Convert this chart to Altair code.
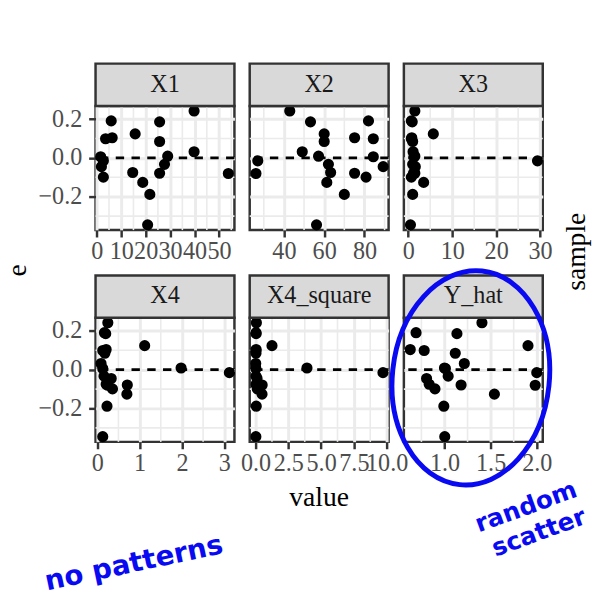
import altair as alt
import pandas as pd

# ---------------- data ----------------
VARS = ["X1", "X2", "X3", "X4", "X4_square", "Y_hat"]

E = [0.242, 0.191, 0.186, 0.124, 0.104, 0.099, 0.085, 0.032, 0.009, 0.006,
     -0.015, -0.033, -0.045, -0.075, -0.079, -0.080, -0.099, -0.126, -0.188, -0.345]

X1 = [39.8, 5.9, 25.7, 15.7, 6.3, 3.6, 25.7, 39.8, 29.0, 1.6,
      2.7, 27.7, 1.9, 14.7, 25.7, 53.8, 2.7, 18.8, 21.7, 20.8]
X2 = [42.9, 82.0, 53.2, 60.0, 75.1, 84.4, 60.0, 49.1, 57.2, 84.4,
      27.0, 62.1, 89.3, 63.2, 75.1, 26.1, 80.8, 61.3, 70.0, 56.2]
X3 = [1.5, 0.7, 0.9, 5.7, 0.8, 0.7, 1.0, 1.1, 1.5, 1.3,
      29.4, 1.0, 1.6, 1.3, 1.5, 1.2, 0.7, 3.5, 1.0, 0.5]
X4 = [0.25, 0.17, 0.20, 1.12, 0.21, 0.13, 0.18, 0.09, 1.98, 0.13,
      3.12, 0.16, 0.33, 0.21, 0.71, 0.25, 0.36, 0.70, 0.23, 0.13]
X4_SQUARE = [0.06, 0.03, 0.04, 1.25, 0.04, 0.02, 0.03, 0.01, 3.92, 0.02,
             9.72, 0.03, 0.11, 0.04, 0.50, 0.06, 0.13, 0.49, 0.05, 0.02]
Y_HAT = [1.406, 0.692, 1.135, 1.905, 0.629, 0.780, 1.117, 1.215, 1.000, 1.010,
         2.000, 1.040, 0.806, 0.834, 1.180, 1.983, 0.897, 1.541, 0.993, 1.003]

VALUES = {"X1": X1, "X2": X2, "X3": X3, "X4": X4, "X4_square": X4_SQUARE, "Y_hat": Y_HAT}

MAJOR = {"X1": [0, 10, 20, 30, 40, 50], "X2": [40, 60, 80], "X3": [0, 10, 20, 30],
         "X4": [0, 1, 2, 3], "X4_square": [0, 2.5, 5, 7.5, 10], "Y_hat": [1.0, 1.5, 2.0]}
MINOR = {"X1": [5, 15, 25, 35, 45, 55], "X2": [30, 50, 70, 90], "X3": [5, 15, 25],
         "X4": [0.5, 1.5, 2.5], "X4_square": [1.25, 3.75, 6.25, 8.75], "Y_hat": [0.75, 1.25, 1.75]}
DOMAIN = {"X1": [-0.5, 56.3], "X2": [23.0, 92.0], "X3": [-1.0, 30.6],
          "X4": [-0.04, 3.24], "X4_square": [-0.45, 10.15], "Y_hat": [0.56, 2.065]}
FMT = {"X1": "d", "X2": "d", "X3": "d", "X4": "d", "X4_square": ".1f", "Y_hat": ".1f"}

Y_MAJOR = [-0.2, 0.0, 0.2]
Y_MINOR = [-0.3, -0.1, 0.1]
Y_DOMAIN = [-0.372, 0.268]
HLINE = [0.0]

Y_TITLE = "e"
X_TITLE = "value"
LEGEND_TITLE = "sample"
NOTE_LEFT = "no patterns"
NOTE_RIGHT = ["random", "scatter"]

# ---------------- styling ----------------
FONT = "Liberation Serif"
HAND = "DejaVu Sans"
BLUE = "#0A0AF2"
W, H = 141, 126
STRIP_H = 43
GRID = "#EBEBEB"
DARK = "#333333"
TICK_FS = 24.5

ELLIPSE = "M -0.731 0 A 0.731 1 0 1 1 0.731 0 A 0.731 1 0 1 1 -0.731 0 Z"


def panel(i, var):
    left = (i % 3 == 0)
    xs = alt.Scale(domain=DOMAIN[var], nice=False, zero=False)
    ys = alt.Scale(domain=Y_DOMAIN, nice=False, zero=False)
    xaxis = alt.Axis(values=MAJOR[var], format=FMT[var], title=None, grid=True,
                     gridColor=GRID, gridWidth=3, domain=False, ticks=True,
                     tickColor=DARK, tickWidth=2.5, tickSize=7,
                     labelFont=FONT, labelFontSize=TICK_FS, labelColor="#4D4D4D",
                     labelPadding=3, labelOverlap=False, labelFlush=False)
    yaxis = alt.Axis(values=Y_MAJOR, format=".1f", title=None, grid=True,
                     gridColor=GRID, gridWidth=3, domain=False, ticks=left,
                     labels=left, tickColor=DARK, tickWidth=2.5, tickSize=7,
                     labelFont=FONT, labelFontSize=TICK_FS, labelColor="#4D4D4D",
                     labelPadding=7, labelOverlap=False, labelFlush=False)

    df = pd.DataFrame({"value": VALUES[var], "e": E})

    minor_x = alt.Chart(pd.DataFrame({"m": MINOR[var]})).mark_rule(
        color=GRID, strokeWidth=1.6).encode(x=alt.X("m:Q", scale=xs, axis=xaxis))
    minor_y = alt.Chart(pd.DataFrame({"m": Y_MINOR})).mark_rule(
        color=GRID, strokeWidth=1.6).encode(y=alt.Y("m:Q", scale=ys, axis=yaxis))
    pts = alt.Chart(df).mark_circle(size=128, color="black", opacity=1).encode(
        x=alt.X("value:Q", scale=xs, axis=xaxis),
        y=alt.Y("e:Q", scale=ys, axis=yaxis))
    hline = alt.Chart(pd.DataFrame({"h": HLINE})).mark_rule(
        color="black", strokeWidth=2.8, strokeDash=[8.5, 7.5]).encode(
        y=alt.Y("h:Q", scale=ys, axis=yaxis))

    lab = pd.DataFrame({"label": [var]})
    strip = alt.Chart(lab).mark_rect(fill="#D9D9D9", stroke=DARK, strokeWidth=2.5).encode(
        x=alt.value(0), x2=alt.value(W), y=alt.value(-STRIP_H), y2=alt.value(0))
    strip_txt = alt.Chart(lab).mark_text(font=FONT, fontSize=TICK_FS, color="#1A1A1A",
                                         baseline="middle", align="center").encode(
        x=alt.value(W / 2), y=alt.value(-STRIP_H / 2), text="label:N")

    layers = [minor_x, minor_y, pts, hline, strip, strip_txt]

    if i == 0:
        anchor = alt.Chart(lab).mark_rect(opacity=0).encode(
            x=alt.value(-95), x2=alt.value(-94), y=alt.value(-101), y2=alt.value(-100))
        layers.append(anchor)

    if i == 5:
        def txt(s, x, y, **kw):
            return alt.Chart(pd.DataFrame({"t": [s]})).mark_text(
                baseline="middle", align="center", **kw).encode(
                x=alt.value(x), y=alt.value(y), text="t:N")
        layers += [
            txt(Y_TITLE, -392, -48, font=FONT, fontSize=28, color="black", angle=270),
            txt(X_TITLE, -86, 183, font=FONT, fontSize=28, color="black"),
            txt(LEGEND_TITLE, 176, -67, font=FONT, fontSize=28, color="black", angle=270),
            txt(NOTE_LEFT, -274, 250, font=HAND, fontSize=28, fontWeight="bold",
                color=BLUE, angle=348),
            txt(NOTE_RIGHT[0], 124, 192, font=HAND, fontSize=25, fontWeight="bold",
                color=BLUE, angle=340),
            txt(NOTE_RIGHT[1], 137, 218, font=HAND, fontSize=25, fontWeight="bold",
                color=BLUE, angle=340),
            alt.Chart(lab).mark_point(shape=ELLIPSE, size=218 * 218, filled=False,
                                      color=BLUE, strokeWidth=5, opacity=1, angle=6).encode(
                x=alt.value(68), y=alt.value(61)),
        ]

    return alt.layer(*layers).properties(width=W, height=H)


panels = [panel(i, v) for i, v in enumerate(VARS)]

chart = alt.concat(*panels, columns=3, spacing={"row": 89, "column": 15.5},
                   bounds="flush").properties(
    padding={"left": 0, "top": 0, "right": 0, "bottom": 0},
    background="white",
).configure_view(stroke=DARK, strokeWidth=2.5)

chart.save("out.html", embed_options={"renderer": "svg", "actions": False})
